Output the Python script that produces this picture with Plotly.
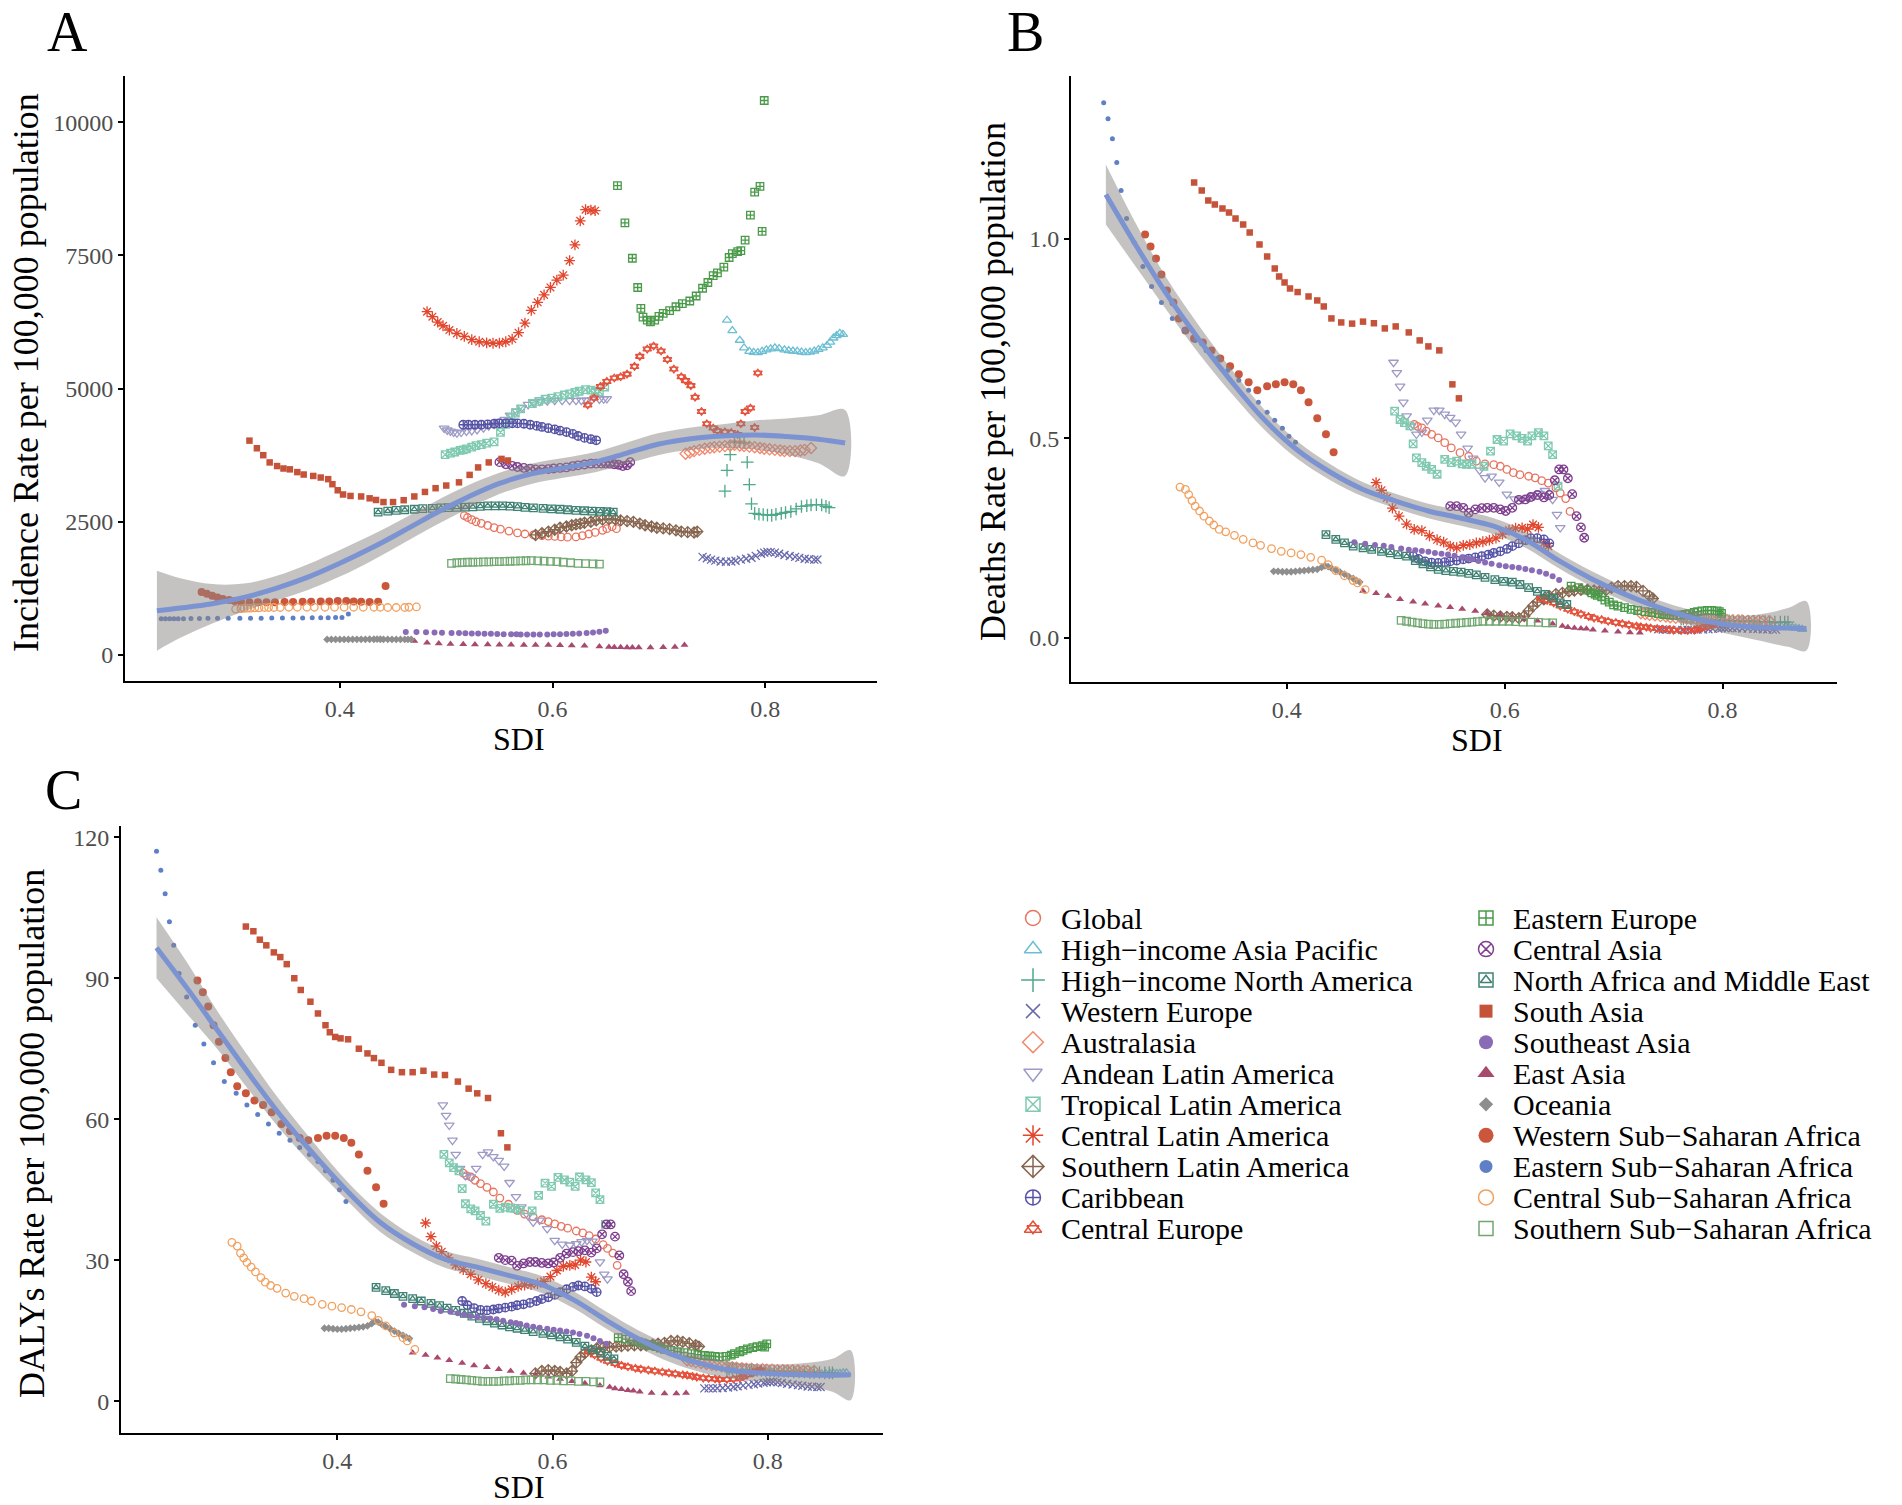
import plotly.graph_objects as go

# ---------------- data (SDI, incidence, deaths, DALYs per region) ----------------
Global_sdi = [0.517,0.520,0.524,0.528,0.533,0.539,0.545,0.551,0.559,0.567,0.574,0.582,0.590,0.596,0.602,0.608,0.614,0.622,0.628,0.634,0.640,0.647,0.651,0.656,0.660]
Global_inc = [2616,2580,2540,2500,2470,2430,2390,2360,2325,2290,2270,2252,2240,2230,2224,2215,2210,2215,2240,2270,2300,2340,2370,2407,2370]
Global_death = [0.535,0.530,0.526,0.518,0.510,0.501,0.489,0.476,0.464,0.455,0.443,0.436,0.434,0.430,0.422,0.414,0.409,0.405,0.401,0.394,0.388,0.376,0.363,0.349,0.317]
Global_daly = [48.5,48.0,47.7,47.0,46.3,45.5,44.5,43.2,41.9,40.6,39.8,39.2,38.6,38.2,37.7,37.2,36.8,36.2,35.8,35.2,34.5,33.3,32.5,31.5,28.9]

HIAP_sdi = [0.764,0.769,0.776,0.780,0.785,0.789,0.793,0.797,0.801,0.805,0.809,0.813,0.818,0.822,0.826,0.830,0.834,0.838,0.842,0.846,0.850,0.854,0.858,0.861,0.864,0.867,0.870,0.873]
HIAP_inc = [6284,6089,5908,5764,5700,5680,5677,5700,5728,5745,5764,5750,5728,5715,5706,5700,5685,5677,5685,5706,5735,5764,5810,5872,5950,5995,6039,6017]
HIAP_death = [0.045,0.043,0.041,0.040,0.039,0.038,0.037,0.037,0.036,0.036,0.035,0.035,0.034,0.034,0.033,0.033,0.032,0.032,0.031,0.031,0.030,0.029,0.028,0.027,0.026,0.025,0.024,0.022]
HIAP_daly = [6.6,6.5,6.4,6.3,6.2,6.2,6.1,6.1,6.0,6.0,6.0,5.9,5.9,5.9,5.9,5.8,5.8,5.8,5.8,5.8,5.8,5.8,5.8,5.9,5.9,5.9,6.0,6.0]

HINA_sdi = [0.762,0.764,0.767,0.771,0.776,0.780,0.783,0.785,0.787,0.790,0.794,0.798,0.802,0.806,0.810,0.815,0.819,0.824,0.829,0.834,0.839,0.843,0.848,0.853,0.857,0.860]
HINA_inc = [3076,3466,3762,3994,4010,3979,3618,3199,2837,2657,2640,2635,2625,2620,2640,2657,2675,2693,2740,2787,2800,2816,2820,2816,2790,2765]
HINA_death = [0.048,0.048,0.047,0.047,0.046,0.046,0.046,0.045,0.045,0.045,0.044,0.044,0.044,0.043,0.043,0.043,0.042,0.042,0.042,0.041,0.041,0.041,0.040,0.040,0.040,0.040]
HINA_daly = [6.9,6.8,6.8,6.7,6.7,6.6,6.6,6.6,6.5,6.5,6.5,6.4,6.4,6.4,6.3,6.3,6.3,6.2,6.2,6.2,6.1,6.1,6.1,6.0,6.0,6.0]

WE_sdi = [0.741,0.745,0.749,0.753,0.758,0.763,0.768,0.772,0.777,0.782,0.787,0.791,0.796,0.799,0.802,0.805,0.809,0.813,0.818,0.823,0.828,0.832,0.837,0.841,0.846,0.849]
WE_inc = [1840,1815,1789,1770,1753,1750,1753,1768,1789,1805,1825,1860,1898,1920,1934,1930,1920,1900,1876,1858,1840,1822,1804,1795,1789,1790]
WE_death = [0.022,0.0215,0.021,0.0205,0.020,0.020,0.020,0.0205,0.021,0.0215,0.022,0.023,0.024,0.0245,0.025,0.025,0.025,0.0245,0.024,0.0235,0.023,0.0225,0.022,0.0215,0.021,0.021]
WE_daly = [2.7,2.7,2.7,2.75,2.8,2.9,3.0,3.15,3.3,3.45,3.6,3.75,3.9,4.0,4.1,4.1,4.0,3.85,3.7,3.55,3.4,3.25,3.1,3.05,3.0,3.0]

AUS_sdi = [0.725,0.729,0.733,0.738,0.743,0.748,0.752,0.757,0.762,0.767,0.771,0.776,0.780,0.785,0.790,0.795,0.799,0.804,0.809,0.814,0.818,0.823,0.828,0.833,0.837,0.843]
AUS_inc = [3777,3800,3827,3850,3871,3888,3900,3910,3921,3932,3943,3932,3921,3910,3900,3885,3871,3860,3849,3838,3827,3827,3827,3838,3849,3885]
AUS_death = [0.062,0.060,0.058,0.057,0.055,0.054,0.052,0.051,0.050,0.049,0.048,0.048,0.047,0.047,0.046,0.046,0.045,0.045,0.044,0.044,0.044,0.043,0.043,0.043,0.042,0.042]
AUS_daly = [8.7,8.5,8.3,8.1,7.9,7.7,7.6,7.4,7.3,7.2,7.1,7.0,6.9,6.9,6.8,6.8,6.7,6.7,6.6,6.6,6.5,6.5,6.5,6.4,6.4,6.4]

AND_sdi = [0.498,0.501,0.504,0.507,0.510,0.514,0.519,0.524,0.529,0.535,0.540,0.545,0.550,0.555,0.560,0.566,0.571,0.577,0.582,0.588,0.595,0.602,0.609,0.616,0.622,0.627,0.632,0.637,0.644,0.648,0.651]
AND_inc = [4257,4220,4200,4180,4166,4180,4200,4212,4230,4260,4300,4330,4380,4420,4500,4580,4640,4700,4740,4760,4770,4777,4777,4777,4777,4780,4780,4790,4800,4804,4810]
AND_death = [0.690,0.664,0.630,0.590,0.556,0.530,0.510,0.515,0.545,0.570,0.570,0.560,0.552,0.540,0.510,0.475,0.450,0.420,0.401,0.405,0.390,0.360,0.348,0.347,0.351,0.356,0.362,0.369,0.347,0.309,0.276]
AND_daly = [63,60.8,58.7,55.5,52.5,49.5,48,47.7,49.5,52.5,53,52,51.2,50,46.5,43.5,41.3,39.5,38.1,38.5,36.7,34.2,33.4,33.2,33.5,33.9,34.2,34.0,29.6,27.0,26.0]

TLA_sdi = [0.499,0.504,0.508,0.513,0.516,0.519,0.524,0.528,0.533,0.538,0.545,0.551,0.556,0.561,0.565,0.570,0.581,0.587,0.593,0.599,0.605,0.611,0.616,0.621,0.625,0.631,0.636,0.640,0.644,0.649]
TLA_inc = [3760,3790,3810,3840,3850,3870,3900,3930,3950,3975,4000,4180,4330,4450,4540,4620,4720,4760,4800,4820,4850,4880,4900,4930,4950,4980,4970,4950,4945,5030]
TLA_death = [0.568,0.547,0.539,0.531,0.486,0.451,0.439,0.430,0.422,0.410,0.447,0.439,0.443,0.436,0.435,0.435,0.430,0.468,0.497,0.493,0.511,0.506,0.500,0.493,0.506,0.514,0.506,0.481,0.459,0.380]
TLA_daly = [52.5,50.7,49.7,49.0,45.2,42.0,40.9,40.5,39.5,38.3,41.9,41.0,41.3,41.1,41.0,40.6,40.5,43.8,46.4,45.7,47.6,47.1,46.6,45.7,47.7,47.1,46.5,44.3,42.9,37.6]

CLA_sdi = [0.482,0.487,0.492,0.497,0.503,0.510,0.517,0.524,0.531,0.538,0.544,0.550,0.556,0.562,0.568,0.574,0.580,0.586,0.592,0.598,0.604,0.610,0.616,0.621,0.626,0.631,0.636,0.640]
CLA_inc = [6445,6350,6250,6180,6100,6035,5980,5920,5880,5860,5852,5855,5880,5930,6050,6230,6470,6620,6760,6900,7038,7129,7402,7700,8150,8359,8350,8341]
CLA_death = [0.389,0.370,0.351,0.325,0.305,0.285,0.272,0.269,0.256,0.246,0.240,0.230,0.226,0.232,0.234,0.238,0.241,0.245,0.250,0.260,0.270,0.275,0.276,0.273,0.284,0.277,0.238,0.230]
CLA_daly = [37.9,35,33,31.8,30.5,29,28,27,25.8,25.0,24.3,23.6,23.2,23.8,24.4,24.7,24.8,25.0,25.5,26.5,27.8,28.7,28.9,29.0,30.0,29.6,26.4,25.4]

SLA_sdi = [0.584,0.590,0.596,0.602,0.607,0.613,0.618,0.622,0.626,0.630,0.636,0.641,0.647,0.653,0.659,0.664,0.670,0.676,0.682,0.687,0.693,0.698,0.704,0.710,0.716,0.721,0.727,0.733,0.736]
SLA_inc = [2252,2285,2315,2350,2388,2410,2434,2450,2465,2480,2500,2525,2540,2552,2545,2525,2512,2498,2465,2434,2410,2388,2375,2361,2338,2315,2305,2297,2315]
SLA_death = [0.059,0.056,0.054,0.053,0.052,0.050,0.055,0.068,0.080,0.090,0.097,0.105,0.110,0.113,0.117,0.119,0.121,0.121,0.119,0.117,0.120,0.126,0.130,0.130,0.130,0.128,0.118,0.105,0.099]
SLA_daly = [5.9,6.4,6.6,6.4,6.2,5.9,6.4,8.2,9.4,10.2,10.8,11.2,11.4,11.5,11.6,11.7,11.8,11.9,11.9,11.9,12.0,12.2,12.4,12.8,12.8,12.6,12.3,11.9,11.6]

CAR_sdi = [0.516,0.521,0.527,0.533,0.539,0.545,0.550,0.556,0.562,0.567,0.573,0.579,0.585,0.590,0.596,0.602,0.607,0.613,0.619,0.624,0.630,0.636,0.641]
CAR_inc = [4321,4321,4321,4321,4330,4340,4348,4350,4350,4348,4340,4321,4300,4280,4257,4235,4210,4184,4150,4110,4075,4050,4029]
CAR_death = [0.205,0.198,0.192,0.189,0.188,0.190,0.192,0.194,0.197,0.199,0.202,0.205,0.209,0.213,0.217,0.223,0.230,0.237,0.245,0.250,0.250,0.247,0.237]
CAR_daly = [21.3,20.4,19.8,19.4,19.3,19.5,19.7,19.9,20.1,20.4,20.6,20.9,21.3,21.7,22.1,22.6,23.2,23.8,24.3,24.6,24.4,23.9,23.2]

CE_sdi = [0.633,0.639,0.645,0.651,0.658,0.664,0.670,0.677,0.682,0.689,0.695,0.702,0.708,0.714,0.721,0.725,0.730,0.734,0.740,0.745,0.751,0.755,0.762,0.768,0.774,0.777,0.781,0.786,0.790,0.793]
CE_inc = [4694,4824,5041,5135,5200,5222,5272,5417,5605,5742,5800,5706,5547,5367,5222,5150,5056,4839,4571,4340,4261,4210,4189,4174,4138,4340,4571,4636,4268,5294]
CE_death = [0.100,0.094,0.088,0.080,0.072,0.066,0.060,0.054,0.050,0.046,0.042,0.039,0.036,0.033,0.030,0.028,0.027,0.025,0.024,0.022,0.021,0.020,0.019,0.019,0.020,0.022,0.025,0.029,0.033,0.035]
CE_daly = [10.5,9.8,9.1,8.5,8.0,7.6,7.3,7.0,6.8,6.6,6.4,6.2,6.0,5.8,5.6,5.5,5.3,5.1,4.9,4.8,4.7,4.6,4.6,4.7,4.9,5.2,5.6,6.0,6.4,6.6]

EE_sdi = [0.661,0.668,0.675,0.680,0.683,0.685,0.689,0.692,0.696,0.700,0.704,0.710,0.716,0.722,0.729,0.735,0.741,0.746,0.751,0.755,0.761,0.766,0.769,0.774,0.777,0.781,0.786,0.790,0.795,0.797,0.799]
EE_inc = [8813,8112,7448,6898,6508,6342,6284,6255,6284,6356,6414,6465,6537,6595,6645,6739,6884,6992,7122,7173,7281,7462,7534,7571,7592,7787,8257,8690,8799,7953,10410]
EE_death = [0.130,0.126,0.120,0.113,0.110,0.107,0.103,0.095,0.090,0.083,0.080,0.076,0.072,0.069,0.066,0.064,0.061,0.059,0.058,0.057,0.058,0.059,0.061,0.064,0.066,0.068,0.069,0.069,0.068,0.066,0.062]
EE_daly = [13.5,13.2,12.9,12.6,12.4,12.2,12.0,11.8,11.6,11.3,11.0,10.8,10.5,10.3,10.1,9.9,9.7,9.6,9.5,9.4,9.5,9.8,10.1,10.5,10.8,11.1,11.4,11.6,11.8,11.5,12.2]

CA_sdi = [0.550,0.556,0.562,0.567,0.573,0.579,0.584,0.590,0.596,0.601,0.607,0.613,0.619,0.624,0.630,0.636,0.641,0.646,0.650,0.654,0.658,0.662,0.666,0.670,0.673]
CA_inc = [3619,3580,3550,3528,3510,3495,3482,3482,3490,3500,3510,3520,3546,3560,3575,3590,3592,3592,3592,3590,3580,3570,3546,3560,3619]
CA_death = [0.330,0.330,0.326,0.313,0.322,0.325,0.326,0.326,0.322,0.318,0.326,0.346,0.347,0.353,0.358,0.352,0.358,0.395,0.422,0.422,0.400,0.360,0.305,0.277,0.251]
CA_daly = [30.5,30.0,29.9,28.8,29.3,29.6,29.6,29.4,29.3,29.5,30.5,31.4,31.7,31.9,32.1,31.6,32.5,35.5,37.6,37.6,35.0,31.0,27.0,25.4,23.4]

NAME_sdi = [0.436,0.445,0.453,0.461,0.470,0.478,0.487,0.495,0.502,0.510,0.518,0.525,0.532,0.539,0.546,0.553,0.560,0.567,0.574,0.582,0.591,0.599,0.607,0.614,0.622,0.630,0.637,0.645,0.651,0.657]
NAME_inc = [2680,2700,2712,2725,2735,2745,2753,2760,2765,2771,2775,2780,2790,2799,2800,2800,2795,2785,2771,2760,2750,2742,2735,2725,2715,2707,2700,2695,2688,2680]
NAME_death = [0.259,0.247,0.238,0.230,0.226,0.222,0.217,0.213,0.209,0.205,0.194,0.186,0.178,0.172,0.169,0.167,0.165,0.162,0.158,0.152,0.146,0.142,0.140,0.134,0.126,0.117,0.109,0.100,0.088,0.084]
NAME_daly = [24.2,23.5,22.9,22.3,21.8,21.3,20.8,20.3,19.8,19.3,18.7,18.1,17.6,17.1,16.6,16.2,15.8,15.5,15.2,14.8,14.4,14.1,13.7,13.2,12.5,11.7,10.9,10.2,9.5,9.0]

SA_sdi = [0.315,0.322,0.328,0.334,0.341,0.347,0.353,0.360,0.366,0.375,0.382,0.389,0.393,0.398,0.403,0.410,0.420,0.428,0.434,0.441,0.450,0.460,0.470,0.480,0.490,0.500,0.512,0.522,0.530,0.540,0.552,0.558]
SA_inc = [4023,3880,3750,3614,3546,3500,3484,3432,3387,3360,3330,3300,3205,3091,3012,2985,2975,2940,2909,2870,2870,2905,2975,3060,3130,3180,3240,3380,3520,3614,3680,3650]
SA_death = [1.14,1.12,1.095,1.085,1.075,1.065,1.05,1.035,1.015,0.985,0.955,0.925,0.905,0.89,0.875,0.866,0.855,0.845,0.83,0.80,0.79,0.787,0.792,0.788,0.775,0.78,0.765,0.745,0.73,0.72,0.635,0.60]
SA_daly = [101,100,98.2,97,95.5,94.5,93,90,87.5,85,82.5,80,78.5,77.5,77.2,77,75,74,73,72,70.5,70,70,70.3,69.5,69.4,68,66.5,65.5,64.5,57,54]

SEA_sdi = [0.462,0.472,0.481,0.489,0.496,0.505,0.512,0.518,0.524,0.530,0.536,0.542,0.548,0.554,0.561,0.566,0.570,0.576,0.582,0.588,0.595,0.601,0.607,0.613,0.619,0.625,0.632,0.638,0.644,0.650]
SEA_inc = [430,428,425,420,415,412,410,405,402,400,398,395,392,390,388,386,385,385,384,384,385,386,388,392,396,402,410,420,435,455]
SEA_death = [0.240,0.236,0.233,0.231,0.228,0.224,0.221,0.220,0.218,0.216,0.213,0.211,0.209,0.206,0.202,0.199,0.197,0.193,0.189,0.186,0.182,0.180,0.178,0.176,0.173,0.170,0.166,0.161,0.155,0.145]
SEA_daly = [20.5,20.2,20.0,19.6,19.2,19.0,18.7,18.4,18.1,17.9,17.7,17.6,17.4,17.1,16.8,16.6,16.4,16.1,15.8,15.6,15.4,15.2,15.0,14.8,14.6,14.3,13.9,13.4,12.8,12.2]

EA_sdi = [0.470,0.482,0.493,0.504,0.516,0.527,0.539,0.550,0.561,0.573,0.584,0.596,0.607,0.618,0.630,0.644,0.653,0.658,0.664,0.670,0.675,0.681,0.692,0.704,0.715,0.724]
EA_inc = [260,230,215,205,200,195,195,190,190,185,185,185,180,175,170,160,150,145,145,140,140,140,140,145,150,185]
EA_death = [0.118,0.112,0.105,0.097,0.091,0.086,0.081,0.077,0.073,0.068,0.063,0.058,0.053,0.048,0.043,0.036,0.030,0.027,0.025,0.024,0.023,0.021,0.018,0.016,0.014,0.013]
EA_daly = [10.3,9.8,9.2,8.7,8.1,7.6,7.2,6.8,6.4,6.0,5.6,5.2,4.7,4.2,3.8,3.3,3.0,2.7,2.5,2.3,2.2,2.0,1.7,1.6,1.6,1.7]

OCE_sdi = [0.388,0.392,0.396,0.400,0.404,0.408,0.412,0.416,0.420,0.424,0.428,0.432,0.435,0.438,0.441,0.445,0.449,0.453,0.457,0.461,0.464,0.467]
OCE_inc = [290,290,290,290,291,291,292,292,293,293,294,294,295,294,293,292,291,290,290,290,291,292]
OCE_death = [0.167,0.167,0.166,0.166,0.166,0.167,0.168,0.169,0.170,0.171,0.172,0.177,0.181,0.179,0.175,0.170,0.165,0.160,0.154,0.149,0.144,0.140]
OCE_daly = [15.5,15.5,15.4,15.3,15.3,15.4,15.5,15.6,15.7,15.8,16.0,16.5,17.0,16.8,16.4,15.9,15.4,14.9,14.4,14.0,13.6,13.3]

WSSA_sdi = [0.270,0.275,0.280,0.285,0.290,0.296,0.301,0.307,0.315,0.323,0.331,0.339,0.348,0.356,0.365,0.373,0.382,0.390,0.398,0.406,0.413,0.420,0.428,0.436,0.443]
WSSA_inc = [1180,1150,1110,1080,1050,1030,1010,1000,990,990,990,990,995,995,1000,1000,1005,1005,1010,1010,1005,1000,995,1000,1295]
WSSA_death = [1.01,0.98,0.95,0.91,0.87,0.84,0.80,0.77,0.75,0.74,0.72,0.70,0.68,0.66,0.64,0.62,0.63,0.635,0.64,0.635,0.62,0.59,0.55,0.51,0.465]
WSSA_daly = [89.5,87,84,80,76.5,73,70,67,65.5,64,63,61.5,59,57.5,56,55.5,56,56.5,56.5,56,55,52.5,49,45.5,42]

ESSA_sdi = [0.232,0.236,0.240,0.244,0.248,0.253,0.260,0.268,0.276,0.285,0.295,0.306,0.316,0.326,0.336,0.346,0.356,0.365,0.374,0.382,0.389,0.396,0.402,0.408]
ESSA_inc = [680,680,680,680,680,680,682,684,686,688,690,690,690,690,692,692,694,694,696,696,698,700,702,770]
ESSA_death = [1.34,1.30,1.25,1.19,1.12,1.05,0.99,0.93,0.88,0.84,0.80,0.77,0.745,0.72,0.70,0.67,0.645,0.62,0.59,0.565,0.545,0.525,0.505,0.49]
ESSA_daly = [117,113,108,102,97,91,86,80,76,72,68,65.5,63,61,59,57,55.5,54,52.5,51,49,47,45,42.5]

CSSA_sdi = [0.302,0.307,0.310,0.313,0.316,0.320,0.324,0.329,0.333,0.338,0.344,0.352,0.360,0.369,0.376,0.386,0.395,0.404,0.413,0.422,0.432,0.438,0.445,0.453,0.461,0.465,0.472]
CSSA_inc = [860,870,875,880,880,885,885,890,890,890,890,895,895,895,895,895,895,895,895,895,895,895,890,890,890,895,900]
CSSA_death = [0.378,0.372,0.359,0.344,0.330,0.318,0.305,0.293,0.283,0.272,0.266,0.257,0.247,0.238,0.232,0.224,0.217,0.213,0.209,0.202,0.195,0.184,0.169,0.156,0.144,0.138,0.121]
CSSA_daly = [33.8,33,31.5,30.5,29.5,28.5,27.5,26.3,25.3,24.6,24,23,22.3,21.8,21.3,20.6,20.2,19.9,19.5,19,18.2,17.2,16,14.5,13.5,12.8,11]

SSSA_sdi = [0.505,0.510,0.515,0.520,0.525,0.530,0.535,0.540,0.545,0.550,0.555,0.560,0.565,0.570,0.575,0.580,0.586,0.592,0.598,0.604,0.610,0.617,0.624,0.631,0.638,0.644]
SSSA_inc = [1720,1730,1735,1740,1740,1742,1745,1748,1750,1752,1755,1758,1760,1765,1768,1770,1765,1760,1755,1750,1740,1730,1720,1715,1710,1705]
SSSA_death = [0.044,0.042,0.040,0.038,0.036,0.035,0.034,0.034,0.035,0.036,0.037,0.038,0.039,0.040,0.041,0.042,0.042,0.042,0.042,0.042,0.041,0.040,0.040,0.039,0.038,0.038]
SSSA_daly = [4.8,4.7,4.6,4.5,4.4,4.3,4.2,4.2,4.2,4.2,4.3,4.3,4.4,4.4,4.5,4.5,4.5,4.5,4.4,4.4,4.3,4.3,4.2,4.2,4.1,4.1]

# smoothed fits with confidence bands
A_fit_x = [0.228,0.25,0.28,0.31,0.34,0.37,0.40,0.43,0.46,0.49,0.52,0.55,0.58,0.61,0.64,0.67,0.70,0.73,0.76,0.79,0.82,0.85,0.875]
A_fit = [830,880,960,1080,1250,1460,1720,2010,2330,2660,2960,3220,3400,3510,3620,3790,3960,4060,4110,4130,4100,4050,3980]
A_lo = [80,320,590,820,1020,1220,1470,1770,2100,2435,2740,3020,3210,3325,3430,3590,3755,3850,3890,3860,3760,3600,3360]
A_hi = [1580,1440,1330,1340,1480,1700,1970,2250,2560,2885,3180,3420,3590,3695,3810,3990,4165,4270,4330,4400,4440,4500,4600]

B_fit_x = [0.234,0.26,0.29,0.32,0.35,0.38,0.41,0.44,0.47,0.50,0.53,0.56,0.59,0.62,0.65,0.68,0.71,0.74,0.77,0.80,0.83,0.86,0.877]
B_fit = [1.11,0.99,0.86,0.745,0.64,0.545,0.47,0.415,0.372,0.343,0.318,0.300,0.280,0.245,0.193,0.148,0.110,0.078,0.052,0.035,0.027,0.025,0.024]
B_hi = [1.185,1.045,0.90,0.78,0.67,0.57,0.492,0.435,0.39,0.361,0.336,0.319,0.30,0.265,0.212,0.167,0.128,0.096,0.071,0.057,0.058,0.075,0.092]
B_lo = [1.035,0.935,0.82,0.71,0.61,0.52,0.448,0.395,0.354,0.325,0.300,0.281,0.26,0.225,0.174,0.129,0.092,0.060,0.033,0.013,-0.004,-0.022,-0.031]

C_fit_x = [0.232,0.26,0.29,0.32,0.35,0.38,0.41,0.44,0.47,0.50,0.53,0.56,0.59,0.62,0.65,0.68,0.71,0.74,0.77,0.80,0.83,0.86,0.877]
C_fit = [96.5,88,78.5,69,60,52,44.5,38,33.5,30.2,28.5,26.7,24.8,21.5,17.2,13.2,10,7.8,6.4,5.9,5.6,5.5,5.6]
C_hi = [103,93.5,82.5,72.5,63,54.5,46.5,40,35.3,32,30.3,28.5,26.6,23.3,19,15,11.8,9.6,8.2,7.8,8,9,10.8]
C_lo = [90,82.5,74.5,65.5,57,49.5,42.5,36,31.7,28.4,26.7,24.9,23,19.7,15.4,11.4,8.2,6,4.6,4,3.2,2,0.2]

A_ticks = [0, 2500, 5000, 7500, 10000]
B_ticks = [0.0, 0.5, 1.0]
C_ticks = [0, 30, 60, 90, 120]
X_ticks = [0.4, 0.6, 0.8]

REGIONS = ["Global", "High\u2212income Asia Pacific", "High\u2212income North America", "Western Europe",
           "Australasia", "Andean Latin America", "Tropical Latin America", "Central Latin America",
           "Southern Latin America", "Caribbean", "Central Europe", "Eastern Europe", "Central Asia",
           "North Africa and Middle East", "South Asia", "Southeast Asia", "East Asia", "Oceania",
           "Western Sub\u2212Saharan Africa", "Eastern Sub\u2212Saharan Africa", "Central Sub\u2212Saharan Africa",
           "Southern Sub\u2212Saharan Africa"]
SDI = [Global_sdi, HIAP_sdi, HINA_sdi, WE_sdi, AUS_sdi, AND_sdi, TLA_sdi, CLA_sdi, SLA_sdi, CAR_sdi, CE_sdi,
       EE_sdi, CA_sdi, NAME_sdi, SA_sdi, SEA_sdi, EA_sdi, OCE_sdi, WSSA_sdi, ESSA_sdi, CSSA_sdi, SSSA_sdi]
INC = [Global_inc, HIAP_inc, HINA_inc, WE_inc, AUS_inc, AND_inc, TLA_inc, CLA_inc, SLA_inc, CAR_inc, CE_inc,
       EE_inc, CA_inc, NAME_inc, SA_inc, SEA_inc, EA_inc, OCE_inc, WSSA_inc, ESSA_inc, CSSA_inc, SSSA_inc]
DEATH = [Global_death, HIAP_death, HINA_death, WE_death, AUS_death, AND_death, TLA_death, CLA_death, SLA_death,
         CAR_death, CE_death, EE_death, CA_death, NAME_death, SA_death, SEA_death, EA_death, OCE_death,
         WSSA_death, ESSA_death, CSSA_death, SSSA_death]
DALY = [Global_daly, HIAP_daly, HINA_daly, WE_daly, AUS_daly, AND_daly, TLA_daly, CLA_daly, SLA_daly, CAR_daly,
        CE_daly, EE_daly, CA_daly, NAME_daly, SA_daly, SEA_daly, EA_daly, OCE_daly, WSSA_daly, ESSA_daly,
        CSSA_daly, SSSA_daly]

# ---------------- styles ----------------
COLORS = ["#E8735F", "#6CBFD3", "#4FA88A", "#6868AC", "#F28A6E", "#9D9BC6", "#7FCAB0", "#E2462C",
          "#87654F", "#5653A6", "#E5503A", "#4A9A4A", "#7E3F8F", "#3F8273", "#C5533A", "#8A6CB6",
          "#A8496E", "#8E8E8E", "#CA573B", "#5F80C6", "#F2A05E", "#70A870"]
SYMBOLS = [[("circle-open", 7.5)], [("triangle-up-open", 8)], [("cross-thin-open", 9)], [("x-thin-open", 8)],
           [("diamond-open", 8.5)], [("triangle-down-open", 8.5)], [("square-x-open", 7.5)], [("asterisk-open", 9)],
           [("diamond-cross-open", 8.5)], [("circle-cross-open", 8.5)],
           [("triangle-up-open", 7.5), ("triangle-down-open", 7.5)], [("square-cross-open", 7.5)],
           [("circle-x-open", 8.5)], [("square-open", 7.5), ("triangle-up-open", 5.5)], [("square", 6.5)],
           [("circle", 6)], [("triangle-up", 7)], [("diamond", 6)], [("circle", 8)], [("circle", 5)],
           [("circle-open", 7.5)], [("square-open", 7.5)]]

FONT = "Liberation Serif, Times New Roman, serif"
W, H = 1902, 1505

fig = go.Figure()

panels = [("x", "y", INC, A_fit_x, A_fit, A_lo, A_hi),
          ("x2", "y2", DEATH, B_fit_x, B_fit, B_lo, B_hi),
          ("x3", "y3", DALY, C_fit_x, C_fit, C_lo, C_hi)]

for xa, ya, vals, fx, fy, flo, fhi in panels:
    for i, name in enumerate(REGIONS):
        for sym, sz in SYMBOLS[i]:
            filled = not sym.endswith("open")
            fig.add_trace(go.Scatter(
                x=SDI[i], y=vals[i], mode="markers", xaxis=xa, yaxis=ya, name=name,
                showlegend=False, hoverinfo="skip",
                marker=dict(symbol=sym, size=sz, color=COLORS[i],
                            line=dict(width=0 if filled else 1.3, color=COLORS[i]))))
    fig.add_trace(go.Scatter(
        x=fx + fx[::-1], y=fhi + flo[::-1], mode="lines", fill="toself", xaxis=xa, yaxis=ya,
        fillcolor="rgba(140,134,134,0.5)", line=dict(width=0, shape="spline"),
        showlegend=False, hoverinfo="skip"))
    fig.add_trace(go.Scatter(
        x=fx, y=fy, mode="lines", xaxis=xa, yaxis=ya,
        line=dict(color="#7B93D1", width=5, shape="spline"),
        showlegend=False, hoverinfo="skip"))

# ---------------- legend (drawn manually, two columns) ----------------
LEG_COL_SYM = [1033, 1486]
LEG_COL_TXT = [1059, 1511]
LEG_Y0, LEG_DY = 918, 31.05
leg_sizes = [15, 15, 17, 14, 16, 16, 14, 17, 17, 15, 15, 14, 15, 14, 13, 14, 15, 11, 15, 13, 15, 14]
annotations = []
for i, name in enumerate(REGIONS):
    col, row = divmod(i, 11)
    yy = LEG_Y0 + LEG_DY * row
    for k, (sym, sz) in enumerate(SYMBOLS[i]):
        filled = not sym.endswith("open")
        s = leg_sizes[i] if k == 0 else leg_sizes[i] * 0.7
        fig.add_trace(go.Scatter(
            x=[LEG_COL_SYM[col]], y=[yy], mode="markers", xaxis="x4", yaxis="y4",
            showlegend=False, hoverinfo="skip",
            marker=dict(symbol=sym, size=s, color=COLORS[i],
                        line=dict(width=0 if filled else 1.5, color=COLORS[i]))))
    annotations.append(dict(x=LEG_COL_TXT[col], y=yy, xref="x4", yref="y4", text=name, showarrow=False,
                            xanchor="left", yanchor="middle", font=dict(family=FONT, size=30, color="black")))


def paper(px, py):
    return px / W, 1 - py / H


def ann(text, px, py, size, angle=0, color="black"):
    x, y = paper(px, py)
    return dict(x=x, y=y, xref="paper", yref="paper", text=text, showarrow=False, textangle=angle,
                xanchor="center", yanchor="middle", font=dict(family=FONT, size=size, color=color))


annotations += [
    ann("A", 67, 32, 56), ann("B", 1025, 32, 56), ann("C", 63, 790, 56),
    ann("Incidence Rate per 100,000 population", 26, 373, 36, -90),
    ann("Deaths Rate per 100,000 population", 993, 382, 36, -90),
    ann("DALYs Rate per 100,000 population", 32, 1134, 36, -90),
    ann("SDI", 519, 739, 32), ann("SDI", 1477, 740, 32), ann("SDI", 519, 1487, 32),
]


def xax(domain, rng, anchor):
    return dict(domain=domain, range=rng, anchor=anchor, tickvals=X_ticks, ticktext=["0.4", "0.6", "0.8"],
                showline=True, linecolor="black", linewidth=2, ticks="outside", ticklen=5, tickwidth=1.5,
                tickcolor="black", tickfont=dict(family=FONT, size=24, color="#4D4D4D"),
                showgrid=False, zeroline=False)


def yax(domain, rng, anchor, vals, text):
    return dict(domain=domain, range=rng, anchor=anchor, tickvals=vals, ticktext=text,
                showline=True, linecolor="black", linewidth=2, ticks="outside", ticklen=5, tickwidth=1.5,
                tickcolor="black", tickfont=dict(family=FONT, size=24, color="#4D4D4D"),
                showgrid=False, zeroline=False)


fig.update_layout(
    width=W, height=H, margin=dict(l=0, r=0, t=0, b=0),
    paper_bgcolor="white", plot_bgcolor="rgba(0,0,0,0)", showlegend=False,
    font=dict(family=FONT),
    xaxis=xax([125 / W, 877 / W], [0.198, 0.905], "y"),
    yaxis=yax([1 - 681 / H, 1 - 75.5 / H], [-490, 10879], "x", A_ticks, [str(v) for v in A_ticks]),
    xaxis2=xax([1071 / W, 1837 / W], [0.202, 0.905], "y2"),
    yaxis2=yax([1 - 682 / H, 1 - 75.6 / H], [-0.110, 1.4078], "x2", B_ticks, ["0.0", "0.5", "1.0"]),
    xaxis3=xax([121 / W, 883 / W], [0.199, 0.907], "y3"),
    yaxis3=yax([1 - 1433 / H, 1 - 826 / H], [-6.79, 122.4], "x3", C_ticks, [str(v) for v in C_ticks]),
    xaxis4=dict(domain=[1000 / W, 1900 / W], range=[1000, 1900], anchor="y4", visible=False, fixedrange=True),
    yaxis4=dict(domain=[1 - 1250 / H, 1 - 880 / H], range=[1250, 880], anchor="x4", visible=False, fixedrange=True),
    annotations=annotations,
)

fig.write_html("out.html", config={"displayModeBar": False},
               post_script="document.body.style.margin='0';")
